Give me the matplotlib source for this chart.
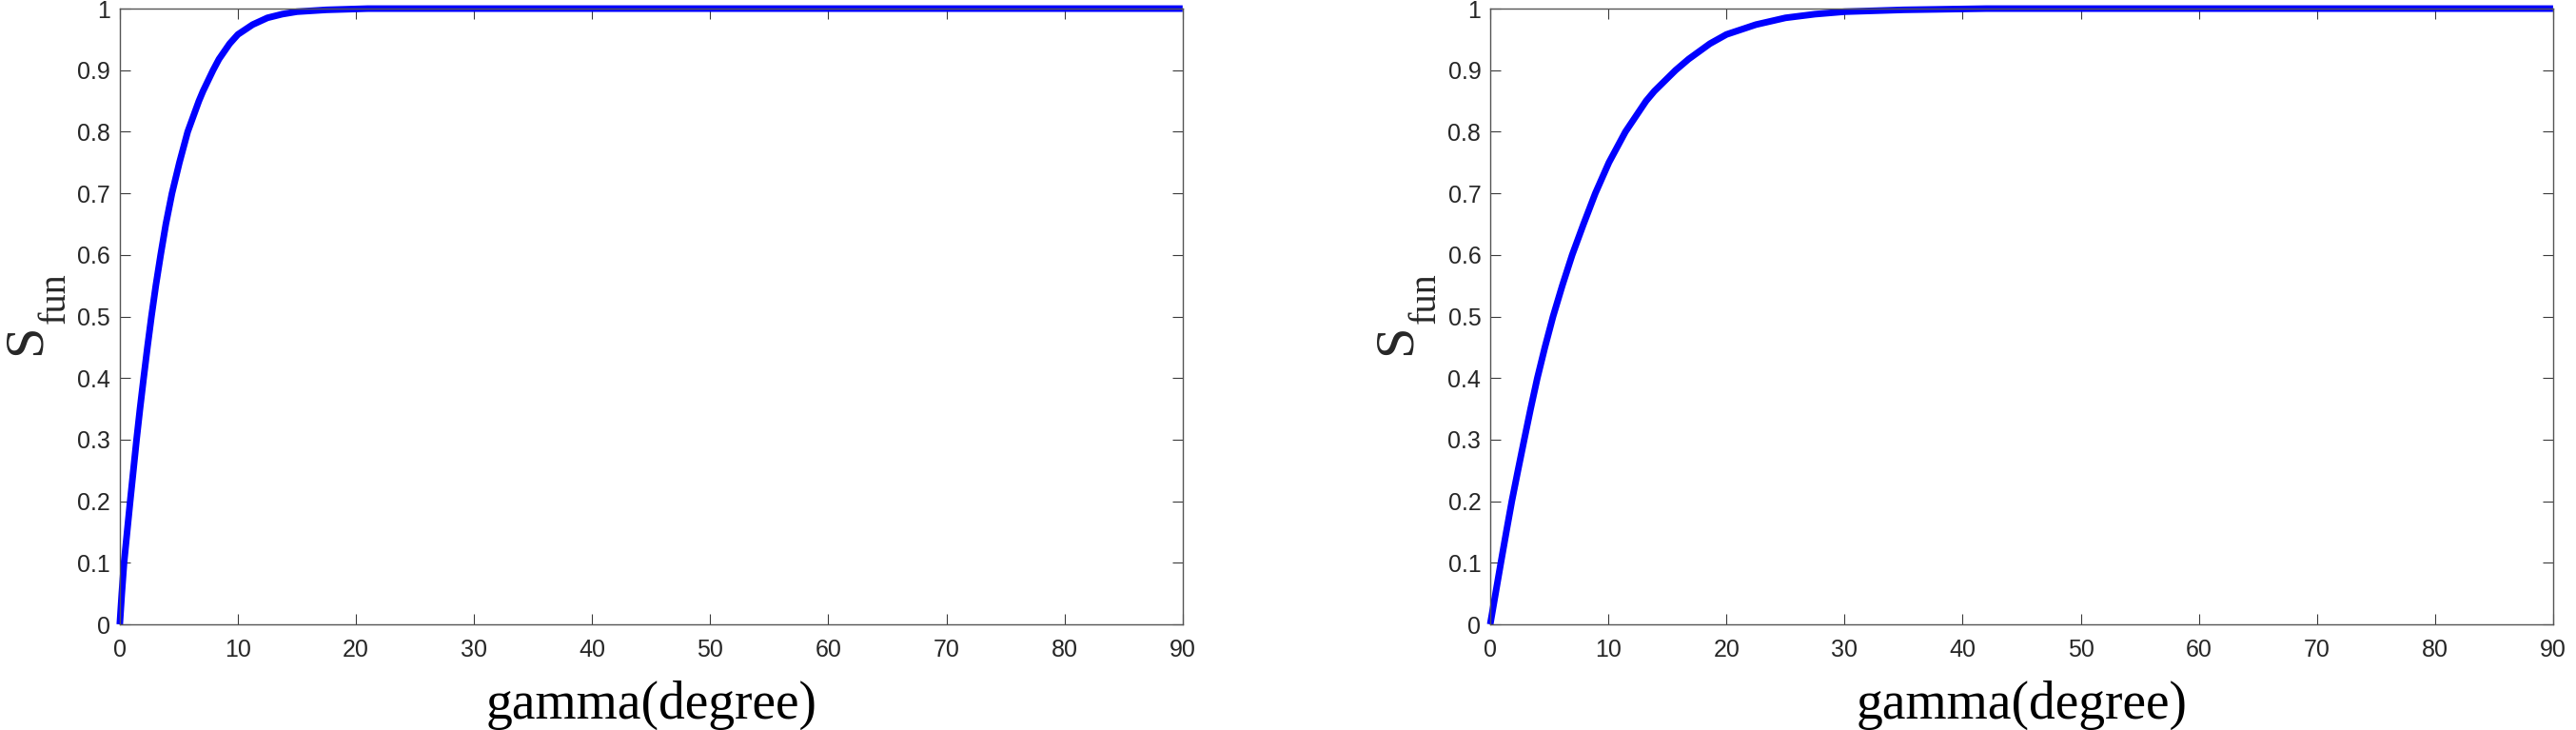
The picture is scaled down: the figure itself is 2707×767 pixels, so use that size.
import matplotlib
matplotlib.use('Agg')
import matplotlib.pyplot as plt
from matplotlib import rcParams

rcParams['font.family'] = 'Liberation Sans'

# values (gamma in degrees, S_fun)
gamma_left = [0, 0.17, 0.36, 0.62, 0.88, 1.15, 1.42, 1.71, 2.02, 2.34, 2.68, 3.05,
              3.46, 3.9, 4.42, 5.05, 5.75, 6.7, 7.05, 7.9, 8.4, 9.3, 10, 11.25,
              12.5, 13.75, 15, 17.5, 21, 90]
s_left = [0, 0.05, 0.1, 0.15, 0.2, 0.25, 0.3, 0.35, 0.4, 0.45, 0.5, 0.55,
          0.6, 0.65, 0.7, 0.75, 0.8, 0.85, 0.866, 0.9, 0.918, 0.943, 0.958, 0.974,
          0.985, 0.991, 0.995, 0.998, 1.0, 1.0]

gamma_right = [0, 0.45, 0.9, 1.36, 1.83, 2.35, 2.88, 3.42, 3.99, 4.63, 5.32, 6.1,
               6.94, 7.9, 8.9, 10.05, 11.45, 13.2, 13.9, 15.7, 16.8, 18.6, 20, 22.5,
               25, 27.5, 30, 35, 42, 90]
s_right = [0, 0.05, 0.1, 0.15, 0.2, 0.25, 0.3, 0.35, 0.4, 0.45, 0.5, 0.55,
           0.6, 0.65, 0.7, 0.75, 0.8, 0.85, 0.866, 0.9, 0.918, 0.943, 0.958, 0.974,
           0.985, 0.991, 0.995, 0.998, 1.0, 1.0]

xticks = list(range(0, 91, 10))
yticks = [0, 0.1, 0.2, 0.3, 0.4, 0.5, 0.6, 0.7, 0.8, 0.9, 1]
ytick_labels = ['0', '0.1', '0.2', '0.3', '0.4', '0.5', '0.6', '0.7', '0.8', '0.9', '1']

W, H = 2707, 767
fig = plt.figure(figsize=(W / 100, H / 100), dpi=100)
ax1 = fig.add_axes([0.0465, 0.1447, 0.4126, 0.8435])
ax2 = fig.add_axes([0.5785, 0.1447, 0.4126, 0.8435])

for ax, g, s in [(ax1, gamma_left, s_left), (ax2, gamma_right, s_right)]:
    ax.plot(g, s, color=(0, 0, 1), linewidth=5, clip_on=False,
            solid_capstyle='butt', solid_joinstyle='round')
    ax.set_xlim(0, 90)
    ax.set_ylim(0, 1)
    ax.set_xticks(xticks)
    ax.set_yticks(yticks)
    ax.set_yticklabels(ytick_labels)
    ax.tick_params(direction='in', length=8, width=0.8, color='#3a3a3a',
                   labelcolor='#262626', labelsize=18, top=True, right=True)
    ax.tick_params(axis='x', pad=11)
    ax.tick_params(axis='y', pad=7)
    for sp in ax.spines.values():
        sp.set_color('#555555')
        sp.set_linewidth(1.0)
    ax.set_xlabel('gamma(degree)', family='Liberation Serif', fontsize=40, labelpad=14)

# y label "S" with a deep subscript "fun", matlab tex style
for dx in [0, 1439.5]:
    fig.text((41.7 + dx) / W, (H - 373) / H, 'S', family='Liberation Serif', fontsize=42,
             rotation=90, rotation_mode='anchor', ha='left', va='baseline', color='#262626')
    fig.text((68 + dx) / W, (H - 340) / H, 'fun', family='Liberation Serif', fontsize=29,
             rotation=90, rotation_mode='anchor', ha='left', va='baseline', color='#262626')

fig.savefig('out.png', dpi=100)
